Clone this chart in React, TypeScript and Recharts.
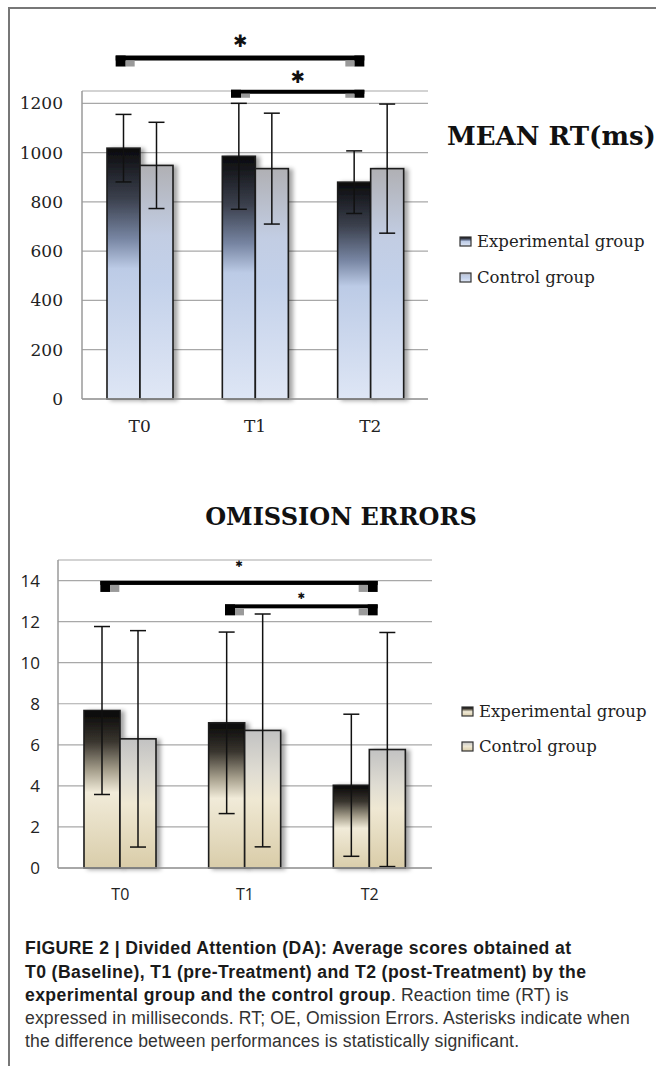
import React from "react"
import {
  BarChart,
  Bar,
  XAxis,
  YAxis,
  CartesianGrid,
  ErrorBar,
  ReferenceLine,
} from "recharts"

const categories = ["T0", "T1", "T2"]

// Mean RT (ms)
const rtExperimental = [1018, 985, 880]
const rtExperimentalErr = [137, 215, 127]
const rtControl = [948, 935, 935]
const rtControlErr = [175, 225, 262]
const rtTicks = [0, 200, 400, 600, 800, 1000, 1200]

// Omission errors
const oeExperimental = [7.67, 7.07, 4.03]
const oeExperimentalErr = [4.09, 4.42, 3.46]
const oeControl = [6.29, 6.7, 5.77]
const oeControlErr = [5.27, 5.67, 5.7]
const oeTicks = [0, 2, 4, 6, 8, 10, 12, 14]

const seriesNames = ["Experimental group", "Control group"]

// significance brackets: from / to category, height in data units
const rtSignificance = [
  { from: "T0", to: "T2", level: 1394 },
  { from: "T1", to: "T2", level: 1255 },
]
const oeSignificance = [
  { from: "T0", to: "T2", level: 13.98 },
  { from: "T1", to: "T2", level: 12.84 },
]

const captionBold = [
  "FIGURE 2 | Divided Attention (DA): Average scores obtained at",
  "T0 (Baseline), T1 (pre-Treatment) and T2 (post-Treatment) by the",
  "experimental group and the control group",
]
const captionRest = [
  ". Reaction time (RT) is",
  "expressed in milliseconds. RT; OE, Omission Errors. Asterisks indicate when",
  "the difference between performances is statistically significant.",
]

const rtData = categories.map((cat, i) => ({
  cat,
  exp: rtExperimental[i],
  expErr: rtExperimentalErr[i],
  ctrl: rtControl[i],
  ctrlErr: rtControlErr[i],
}))

const oeData = categories.map((cat, i) => ({
  cat,
  exp: oeExperimental[i],
  expErr: oeExperimentalErr[i],
  ctrl: oeControl[i],
  ctrlErr: oeControlErr[i],
}))

const serif = "'DejaVu Serif', serif"
const sans = "'Open Sans', sans-serif"

const rtGrad = {
  exp: [
    [0, "#0a0a0c"],
    [0.2, "#3b404d"],
    [0.36, "#7785a2"],
    [0.48, "#bccbe6"],
    [1, "#dee6f5"],
  ],
  ctrl: [
    [0, "#b0b0b4"],
    [0.3, "#c2cde3"],
    [0.5, "#c3d1ea"],
    [1, "#e0e7f5"],
  ],
}

const oeGrad = {
  exp: [
    [0, "#070707"],
    [0.2, "#3a362f"],
    [0.38, "#a69f8c"],
    [0.52, "#f1ebd9"],
    [1, "#d9cdaa"],
  ],
  ctrl: [
    [0, "#c2c2c2"],
    [0.3, "#dfdcd2"],
    [0.5, "#efe8d3"],
    [1, "#d9cca8"],
  ],
}

function Gradient({ id, stops }: { id: string; stops: any[] }) {
  return (
    <linearGradient id={id} x1="0" y1="0" x2="0" y2="1">
      {stops.map(([o, c]) => (
        <stop key={o} offset={o} stopColor={c} />
      ))}
    </linearGradient>
  )
}

function shadowBar(fillId: string, filterId: string) {
  return (p: any) => (
    <rect
      x={p.x}
      y={p.y}
      width={p.width}
      height={p.height}
      fill={`url(#${fillId})`}
      stroke="#1c1c1c"
      strokeWidth={1.6}
      filter={`url(#${filterId})`}
    />
  )
}

function bracketShape(
  leftShift: number,
  rightShift: number,
  thick: number,
  drop: number,
  starSize: number,
  starGap: number
) {
  return (p: any) => {
    const x1 = Math.min(p.x1, p.x2) + leftShift
    const x2 = Math.max(p.x1, p.x2) + rightShift
    const y = p.y1
    const block = 10
    const grey = 9
    return (
      <g>
        <rect x={x1} y={y} width={x2 - x1} height={thick} fill="#000" />
        <rect x={x1} y={y} width={block} height={drop} fill="#000" />
        <rect x={x1 + block} y={y + thick} width={grey} height={drop - thick} fill="#9a9a9a" />
        <rect x={x2 - block} y={y} width={block} height={drop} fill="#000" />
        <rect x={x2 - block - grey} y={y + thick} width={grey} height={drop - thick} fill="#9a9a9a" />
        <text
          x={(x1 + x2) / 2}
          y={y - starGap}
          textAnchor="middle"
          fontSize={starSize}
          fontFamily="'DejaVu Sans', sans-serif"
          fill="#111"
        >
          ✱
        </text>
      </g>
    )
  }
}

function LegendBlock({
  left,
  tops,
  grad,
  prefix,
}: {
  left: number
  tops: number[]
  grad: any
  prefix: string
}) {
  const keys = ["exp", "ctrl"]
  return (
    <>
      {seriesNames.map((name, i) => (
        <div
          key={name}
          style={{
            position: "absolute",
            left,
            top: tops[i] - 12,
            height: 24,
            display: "flex",
            alignItems: "center",
            fontFamily: serif,
            fontSize: 16.5,
            color: "#222",
            whiteSpace: "nowrap",
          }}
        >
          <svg width={14} height={12} style={{ marginRight: 4 }}>
            <defs>
              <Gradient id={`${prefix}-lg-${i}`} stops={grad[keys[i]]} />
            </defs>
            <rect x={1} y={1} width={11} height={9} fill={`url(#${prefix}-lg-${i})`} stroke="#333" strokeWidth={1.2} />
          </svg>
          {name}
        </div>
      ))}
    </>
  )
}

function App() {
  return (
    <div
      style={{
        position: "absolute",
        left: 0,
        top: 0,
        width: 656,
        height: 1066,
        background: "#fff",
        overflow: "hidden",
      }}
    >
      <div
        style={{
          position: "absolute",
          left: 8,
          top: 7,
          width: 660,
          height: 1070,
          borderLeft: "2px solid #777",
          borderTop: "2px solid #777",
        }}
      />

      {/* MEAN RT */}
      <div style={{ position: "absolute", left: 0, top: 0 }}>
        <BarChart
          width={656}
          height={450}
          data={rtData}
          margin={{ top: 91, right: 228, left: 22, bottom: 11 }}
          barGap={0}
          barSize={33}
        >
          <defs>
            <Gradient id="rtExp" stops={rtGrad.exp} />
            <Gradient id="rtCtrl" stops={rtGrad.ctrl} />
            <filter id="rtShadow" x="-20%" y="-5%" width="150%" height="115%">
              <feDropShadow dx={4} dy={1} stdDeviation={2} floodColor="#000" floodOpacity={0.35} />
            </filter>
          </defs>
          <CartesianGrid horizontal vertical={false} stroke="#a8a8a8" strokeWidth={1.2} />
          <XAxis
            dataKey="cat"
            height={40}
            axisLine={{ stroke: "#9a9a9a", strokeWidth: 1.5 }}
            tickLine={false}
            tickSize={0}
            tickMargin={21}
            tick={{ fill: "#222", fontSize: 17, fontFamily: serif }}
          />
          <YAxis
            width={60}
            domain={[0, 1250]}
            ticks={rtTicks}
            axisLine={{ stroke: "#9a9a9a", strokeWidth: 1.5 }}
            tickLine={false}
            tickSize={0}
            tickMargin={19}
            tick={{ fill: "#222", fontSize: 17, fontFamily: serif }}
          />
          <Bar dataKey="exp" name={seriesNames[0]} isAnimationActive={false} shape={shadowBar("rtExp", "rtShadow")}>
            <ErrorBar dataKey="expErr" width={8} stroke="#111" strokeWidth={1.5} />
          </Bar>
          <Bar dataKey="ctrl" name={seriesNames[1]} isAnimationActive={false} shape={shadowBar("rtCtrl", "rtShadow")}>
            <ErrorBar dataKey="ctrlErr" width={8} stroke="#111" strokeWidth={1.5} />
          </Bar>
          {rtSignificance.map((s, i) => (
            <ReferenceLine
              key={i}
              ifOverflow="visible"
              segment={[
                { x: s.from, y: s.level },
                { x: s.to, y: s.level },
              ]}
              shape={bracketShape(-24, -6, i === 0 ? 5 : 4, i === 0 ? 11 : 8, 17, i === 0 ? 9 : 7)}
            />
          ))}
        </BarChart>
      </div>
      <div
        style={{
          position: "absolute",
          left: 447,
          top: 123,
          fontFamily: serif,
          fontWeight: 700,
          fontSize: 26,
          lineHeight: "26px",
          color: "#111",
          whiteSpace: "nowrap",
        }}
      >
        MEAN RT(ms)
      </div>
      <LegendBlock left={459} tops={[241.5, 277.5]} grad={rtGrad} prefix="rt" />

      {/* OMISSION ERRORS */}
      <div
        style={{
          position: "absolute",
          left: 141,
          width: 400,
          top: 504.7,
          textAlign: "center",
          fontFamily: serif,
          fontWeight: 700,
          fontSize: 24,
          lineHeight: "24px",
          color: "#111",
          whiteSpace: "nowrap",
        }}
      >
        OMISSION ERRORS
      </div>
      <div style={{ position: "absolute", left: 0, top: 520 }}>
        <BarChart
          width={656}
          height={390}
          data={oeData}
          margin={{ top: 40, right: 224, left: 18, bottom: 2 }}
          barGap={0}
          barSize={36}
        >
          <defs>
            <Gradient id="oeExp" stops={oeGrad.exp} />
            <Gradient id="oeCtrl" stops={oeGrad.ctrl} />
            <filter id="oeShadow" x="-20%" y="-5%" width="150%" height="115%">
              <feDropShadow dx={4} dy={1} stdDeviation={2} floodColor="#000" floodOpacity={0.35} />
            </filter>
          </defs>
          <CartesianGrid horizontal vertical={false} stroke="#a8a8a8" strokeWidth={1.2} />
          <XAxis
            dataKey="cat"
            height={40}
            axisLine={{ stroke: "#9a9a9a", strokeWidth: 1.5 }}
            tickLine={false}
            tickSize={0}
            tickMargin={21}
            tick={{ fill: "#222", fontSize: 16, fontFamily: sans }}
          />
          <YAxis
            width={40}
            domain={[0, 15]}
            ticks={oeTicks}
            axisLine={{ stroke: "#9a9a9a", strokeWidth: 1.5 }}
            tickLine={false}
            tickSize={0}
            tickMargin={18}
            tick={{ fill: "#222", fontSize: 17, fontFamily: sans }}
          />
          <Bar dataKey="exp" name={seriesNames[0]} isAnimationActive={false} shape={shadowBar("oeExp", "oeShadow")}>
            <ErrorBar dataKey="expErr" width={8} stroke="#111" strokeWidth={1.5} />
          </Bar>
          <Bar dataKey="ctrl" name={seriesNames[1]} isAnimationActive={false} shape={shadowBar("oeCtrl", "oeShadow")}>
            <ErrorBar dataKey="ctrlErr" width={8} stroke="#111" strokeWidth={1.5} />
          </Bar>
          {oeSignificance.map((s, i) => (
            <ReferenceLine
              key={i}
              ifOverflow="visible"
              segment={[
                { x: s.from, y: s.level },
                { x: s.to, y: s.level },
              ]}
              shape={bracketShape(-20, 8, 4, 11, 9, i === 0 ? 14 : 5)}
            />
          ))}
        </BarChart>
      </div>
      <LegendBlock left={461} tops={[711.7, 746.7]} grad={oeGrad} prefix="oe" />

      {/* caption */}
      <div
        style={{
          position: "absolute",
          left: 25,
          top: 937.4,
          fontFamily: "'Liberation Sans', Arial, sans-serif",
          fontSize: 17.6,
          letterSpacing: 0.13,
          lineHeight: "23.2px",
          color: "#333",
          whiteSpace: "nowrap",
        }}
      >
        <b style={{ color: "#1a1a1a", letterSpacing: 0.4 }}>{captionBold[0]}</b>
        <br />
        <b style={{ color: "#1a1a1a", letterSpacing: 0.4 }}>{captionBold[1]}</b>
        <br />
        <b style={{ color: "#1a1a1a", letterSpacing: 0.4 }}>{captionBold[2]}</b>
        {captionRest[0]}
        <br />
        {captionRest[1]}
        <br />
        {captionRest[2]}
      </div>
    </div>
  )
}

export default App
